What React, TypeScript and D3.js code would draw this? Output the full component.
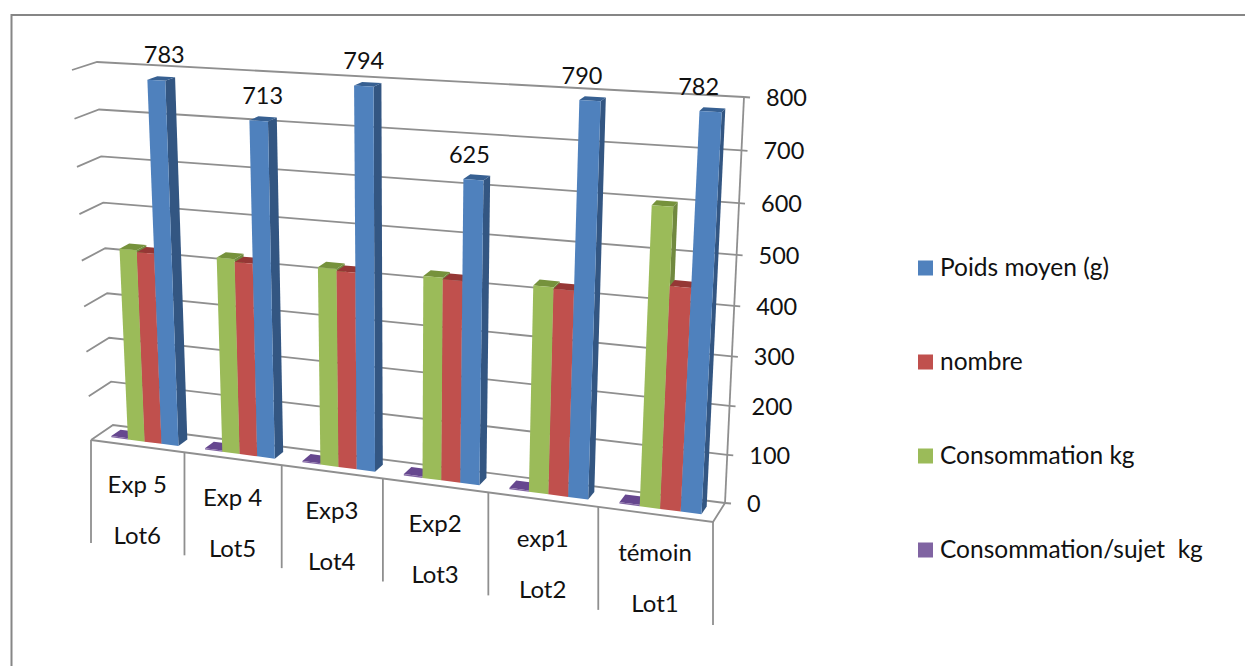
import React from "react";
import * as d3 from "d3";

// Chart data, left to right on the category axis
const groupLabels = ["Exp 5", "Exp 4", "Exp3", "Exp2", "exp1", "témoin"];
const lotLabels = ["Lot6", "Lot5", "Lot4", "Lot3", "Lot2", "Lot1"];
const poidsMoyen = [783, 713, 794, 625, 790, 782];
const nombre = [420, 418, 419, 422, 423, 449];
const consommation = [424, 424, 423, 425, 426, 601];
const consommationSujet = [3, 3, 3, 3, 3, 3];
const valueTicks = [0, 100, 200, 300, 400, 500, 600, 700, 800];
const legendNames = ["Poids moyen (g)", "nombre", "Consommation kg", "Consommation/sujet  kg"];

const FONT = "Lato, Carlito, sans-serif";
const GRID = "#8f8f8f";

type Pt = [number, number];

// Solves the plane homography that sends the unit square to a quadrilateral
function quadMap(p00: Pt, p10: Pt, p11: Pt, p01: Pt) {
  const [x0, y0] = p00, [x1, y1] = p10, [x2, y2] = p11, [x3, y3] = p01;
  const dx1 = x1 - x2, dx2 = x3 - x2, sx = x0 - x1 + x2 - x3;
  const dy1 = y1 - y2, dy2 = y3 - y2, sy = y0 - y1 + y2 - y3;
  const det = dx1 * dy2 - dx2 * dy1;
  const g = (sx * dy2 - dx2 * sy) / det;
  const h = (dx1 * sy - sx * dy1) / det;
  const a = x1 - x0 + g * x1, b = x3 - x0 + h * x3;
  const d = y1 - y0 + g * y1, e = y3 - y0 + h * y3;
  return (u: number, v: number): Pt => {
    const w = g * u + h * v + 1;
    return [(a * u + b * v + x0) / w, (d * u + e * v + y0) / w];
  };
}

// Back wall and front plane of the chart box: (category fraction, value fraction)
const backPlane = quadMap([113, 425], [725, 503], [744, 97], [97, 62]);
const frontPlane = quadMap([91, 440], [713, 522], [736, 106], [72, 70]);

const valueScale = d3.scaleLinear().domain([0, 800]).range([0, 1]);
const categoryBand = d3.scaleBand<number>().domain(d3.range(6)).range([0, 1]);

// Maps category fraction, depth (0 back, 1 front) and value to page coordinates
function project(u: number, depth: number, value: number): Pt {
  const v = valueScale(value);
  const b = backPlane(u, v);
  const f = frontPlane(u, v);
  return [b[0] + (f[0] - b[0]) * depth, b[1] + (f[1] - b[1]) * depth];
}

const polygon = (pts: Pt[]) => pts.map((p) => p.join(",")).join(" ");

const DEPTH_BACK = 0.28;
const DEPTH_FRONT = 0.7;
const BAR_START = 0.15;
const BAR_STEP = 0.18;

// Data labels drift left of their column from the first category to the last
const labelDrift = d3.scaleLinear().domain([0, 5]).range([3, -17]);

const seriesDraw = [
  { values: consommationSujet, face: "#8064a2", side: "#5c4776", top: "#66478f" },
  { values: consommation, face: "#9bbb59", side: "#71893f", top: "#76923c" },
  { values: nombre, face: "#c0504d", side: "#8c3836", top: "#953735" },
  { values: poidsMoyen, face: "#4f81bd", side: "#335682", top: "#376092" },
];
const legendColors = ["#4f81bd", "#c0504d", "#9bbb59", "#8064a2"];

function Bar3D({ cat, slot, value, s }: { cat: number; slot: number; value: number; s: typeof seriesDraw[number] }) {
  const bw = categoryBand.bandwidth();
  const u0 = (categoryBand(cat) as number) + bw * (BAR_START + BAR_STEP * slot);
  const u1 = u0 + bw * BAR_STEP;
  const fl0 = project(u0, DEPTH_FRONT, 0), fr0 = project(u1, DEPTH_FRONT, 0);
  const flv = project(u0, DEPTH_FRONT, value), frv = project(u1, DEPTH_FRONT, value);
  const br0 = project(u1, DEPTH_BACK, 0), brv = project(u1, DEPTH_BACK, value), blv = project(u0, DEPTH_BACK, value);
  return (
    <g>
      <polygon points={polygon([fr0, br0, brv, frv])} fill={s.side} />
      <polygon points={polygon([flv, frv, brv, blv])} fill={s.top} />
      <polygon points={polygon([fl0, fr0, frv, flv])} fill={s.face} />
    </g>
  );
}

export default function App() {
  const frontLeft = project(0, 1, 0);
  const frontRight = project(1, 1, 0);
  const backRight0 = project(1, 0, 0);
  const backRightTop = project(1, 0, 800);
  return (
    <svg width={1245} height={666} style={{ position: "absolute", left: 0, top: 0, background: "#fff" }} fontFamily={FONT}>
      {/* chart frame: only the top and left edges are present */}
      <polyline points="11.5,666 11.5,15 1245,15" fill="none" stroke="#868686" strokeWidth={2} />

      {valueTicks.map((t) => {
        const fl = project(0, 1, t), bl = project(0, 0, t), br = project(1, 0, t);
        return (
          <g key={t}>
            <polyline points={polygon([fl, bl, br])} fill="none" stroke={GRID} strokeWidth={1.8} />
            <line x1={br[0]} y1={br[1]} x2={br[0] + 6} y2={br[1] + 0.5} stroke={GRID} strokeWidth={1.8} />
            <text x={br[0] + 22} y={br[1] + 9} fontSize={23.5} fill="#111">{t}</text>
          </g>
        );
      })}

      {/* right axis, floor edges and category dividers */}
      <line x1={backRight0[0]} y1={backRight0[1]} x2={backRightTop[0]} y2={backRightTop[1]} stroke={GRID} strokeWidth={1.8} />
      <polyline points={polygon([frontLeft, frontRight, backRight0])} fill="none" stroke={GRID} strokeWidth={1.8} />
      {d3.range(7).map((i) => {
        const p = project(i / 6, 1, 0);
        return <line key={i} x1={p[0]} y1={p[1]} x2={p[0]} y2={p[1] + 103} stroke={GRID} strokeWidth={1.8} />;
      })}

      {seriesDraw.map((s, slot) =>
        s.values.map((v, cat) => <Bar3D key={`${slot}-${cat}`} cat={cat} slot={slot} value={v} s={s} />)
      )}

      {/* value labels above the blue columns */}
      {poidsMoyen.map((v, cat) => {
        const bw = categoryBand.bandwidth();
        const u = (categoryBand(cat) as number) + bw * (BAR_START + BAR_STEP * 3.5);
        const p = project(u, DEPTH_FRONT, v);
        return (
          <text key={cat} x={p[0] + 5 + labelDrift(cat)} y={p[1] - 17} textAnchor="middle" fontSize={23.5} fill="#111">{v}</text>
        );
      })}

      {/* two-line category labels */}
      {groupLabels.map((g, i) => {
        const p = project((i + 0.5) / 6, 1, 0);
        return (
          <g key={g} textAnchor="middle" fontSize={24} fill="#111">
            <text x={p[0]} y={p[1] + 47}>{g}</text>
            <text x={p[0]} y={p[1] + 98}>{lotLabels[i]}</text>
          </g>
        );
      })}

      {legendNames.map((n, i) => {
        const y = d3.scaleLinear().domain([0, 3]).range([268, 550])(i);
        return (
          <g key={n}>
            <rect x={918} y={y - 7.5} width={15} height={15} fill={legendColors[i]} />
            <text x={940} y={y + 8} fontSize={24.5} fill="#111" xmlSpace="preserve">{n}</text>
          </g>
        );
      })}
    </svg>
  );
}
